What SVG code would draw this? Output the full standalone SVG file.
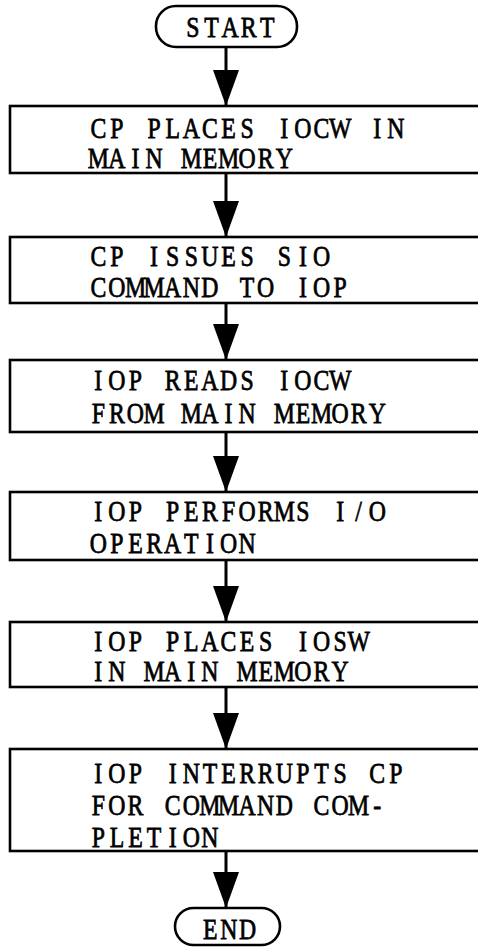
<svg xmlns="http://www.w3.org/2000/svg" width="478" height="947" viewBox="0 0 478 947">
<style>
.box{fill:#fff;stroke:#000;stroke-width:2.6}
.t{font-family:"Liberation Serif","Times New Roman",serif;font-size:29px;fill:#000;stroke:#000;stroke-width:0.75;text-anchor:middle}
.c{stroke:#000;stroke-width:3;fill:none}
</style>
<defs>
<marker id="ah" viewBox="0 0 36 26" refX="36" refY="13" markerWidth="36" markerHeight="26" markerUnits="userSpaceOnUse" orient="auto">
<path d="M0,0 L36,13 L0,26 Z" fill="#000"/>
</marker>
</defs>
<rect width="478" height="947" fill="#fff"/>
<g id="connectors">
<line class="c" x1="226" y1="47" x2="226" y2="106" marker-end="url(#ah)"/>
<line class="c" x1="226" y1="173" x2="226" y2="237" marker-end="url(#ah)"/>
<line class="c" x1="226" y1="303" x2="226" y2="360" marker-end="url(#ah)"/>
<line class="c" x1="226" y1="432" x2="226" y2="492" marker-end="url(#ah)"/>
<line class="c" x1="226" y1="560" x2="226" y2="622" marker-end="url(#ah)"/>
<line class="c" x1="226" y1="687" x2="226" y2="749" marker-end="url(#ah)"/>
<line class="c" x1="226" y1="851" x2="226" y2="908" marker-end="url(#ah)"/>
</g>
<g id="start">
<rect class="box" x="156" y="6" width="141" height="41" rx="20"/>
<text class="t" transform="scale(0.82 1)" x="235.1 257.8 280.5 303.2 325.9" y="37">START</text>
</g>
<g id="n1">
<rect class="box" x="10" y="106" width="480" height="67"/>
<g transform="scale(0.82 1)">
<text class="t" x="119.9 142.6 165.2 187.9 210.6 233.3 256.0 278.7 301.3 324.0 346.7 369.4 392.1 414.8 437.4 460.1 482.8" y="138">CP PLACES IOCW IN</text>
<text class="t" x="119.9 142.6 165.2 187.9 210.6 233.3 256.0 278.7 301.3 324.0 346.7 369.4 392.1 414.8 437.4 460.1 482.8" y="168">MAIN MEMORY</text>
</g>
</g>
<g id="n2">
<rect class="box" x="10" y="237" width="480" height="66"/>
<g transform="scale(0.82 1)">
<text class="t" x="119.9 142.6 165.2 187.9 210.6 233.3 256.0 278.7 301.3 324.0 346.7 369.4 392.1 414.8 437.4 460.1 482.8" y="266">CP ISSUES SIO</text>
<text class="t" x="119.9 142.6 165.2 187.9 210.6 233.3 256.0 278.7 301.3 324.0 346.7 369.4 392.1 414.8 437.4 460.1 482.8" y="297">COMMAND TO IOP</text>
</g>
</g>
<g id="n3">
<rect class="box" x="10" y="360" width="480" height="72"/>
<g transform="scale(0.82 1)">
<text class="t" x="119.9 142.6 165.2 187.9 210.6 233.3 256.0 278.7 301.3 324.0 346.7 369.4 392.1 414.8 437.4 460.1 482.8" y="390">IOP READS IOCW</text>
<text class="t" x="119.9 142.6 165.2 187.9 210.6 233.3 256.0 278.7 301.3 324.0 346.7 369.4 392.1 414.8 437.4 460.1 482.8" y="423">FROM MAIN MEMORY</text>
</g>
</g>
<g id="n4">
<rect class="box" x="10" y="492" width="480" height="68"/>
<g transform="scale(0.82 1)">
<text class="t" x="119.9 142.6 165.2 187.9 210.6 233.3 256.0 278.7 301.3 324.0 346.7 369.4 392.1 414.8 437.4 460.1 482.8" y="521">IOP PERFORMS I/O</text>
<text class="t" x="119.9 142.6 165.2 187.9 210.6 233.3 256.0 278.7 301.3 324.0 346.7 369.4 392.1 414.8 437.4 460.1 482.8" y="553">OPERATION</text>
</g>
</g>
<g id="n5">
<rect class="box" x="10" y="622" width="480" height="65"/>
<g transform="scale(0.82 1)">
<text class="t" x="119.9 142.6 165.2 187.9 210.6 233.3 256.0 278.7 301.3 324.0 346.7 369.4 392.1 414.8 437.4 460.1 482.8" y="651">IOP PLACES IOSW</text>
<text class="t" x="119.9 142.6 165.2 187.9 210.6 233.3 256.0 278.7 301.3 324.0 346.7 369.4 392.1 414.8 437.4 460.1 482.8" y="681">IN MAIN MEMORY</text>
</g>
</g>
<g id="n6">
<rect class="box" x="10" y="749" width="480" height="102"/>
<g transform="scale(0.82 1)">
<text class="t" x="119.9 142.6 165.2 187.9 210.6 233.3 256.0 278.7 301.3 324.0 346.7 369.4 392.1 414.8 437.4 460.1 482.8" y="783">IOP INTERRUPTS CP</text>
<text class="t" x="119.9 142.6 165.2 187.9 210.6 233.3 256.0 278.7 301.3 324.0 346.7 369.4 392.1 414.8 437.4 460.1 482.8" y="815">FOR COMMAND COM-</text>
<text class="t" x="119.9 142.6 165.2 187.9 210.6 233.3 256.0 278.7 301.3 324.0 346.7 369.4 392.1 414.8 437.4 460.1 482.8" y="847">PLETION</text>
</g>
</g>
<g id="end">
<rect class="box" x="175" y="908" width="105" height="37" rx="18.5"/>
<text class="t" transform="scale(0.82 1)" x="256.5 279.1 301.8" y="939">END</text>
</g>
</svg>
